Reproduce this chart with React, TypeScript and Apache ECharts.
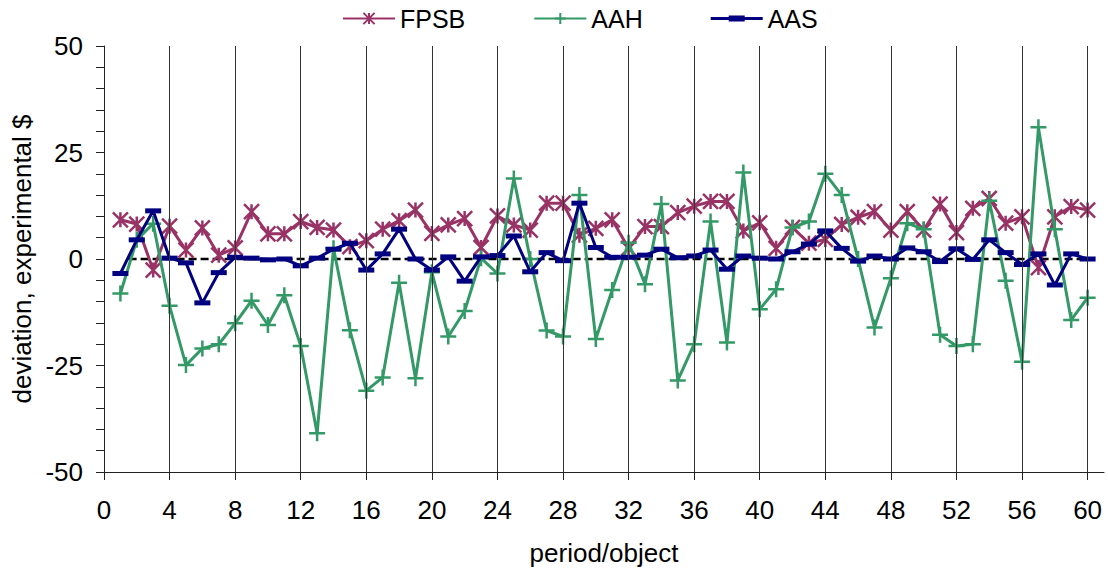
import React, { useEffect, useRef } from "react";
import * as echarts from "echarts";

const periods: number[] = Array.from({ length: 60 }, (_, i) => i + 1);

const fpsb: number[] = [
  9.2, 8.2, -2.6, 7.7, 2.1, 7.3, 0.9, 2.6, 11.1, 5.9,
  5.9, 8.8, 7.4, 6.8, 2.9, 4.3, 7.0, 9.0, 11.5, 6.0,
  8.0, 9.5, 2.7, 10.1, 8.0, 6.8, 13.1, 13.1, 5.6, 7.2,
  9.2, 2.5, 7.6, 7.6, 10.9, 12.4, 13.5, 13.5, 6.6, 8.5,
  2.5, 7.4, 3.7, 4.6, 8.1, 9.8, 11.1, 6.8, 11.1, 6.8,
  12.9, 6.2, 11.9, 14.2, 8.4, 9.9, -2.0, 9.9, 12.3, 11.5,
];

const aah: number[] = [
  -8.1, 4.5, 8.3, -11.0, -24.9, -21.0, -20.0, -15.1, -9.8, -15.5,
  -8.5, -20.4, -40.9, 2.5, -16.7, -30.9, -27.8, -5.6, -28.0, -3.1,
  -18.2, -12.2, 0.2, -3.4, 18.9, 0.0, -16.8, -18.2, 15.0, -18.8,
  -7.3, 3.8, -5.9, 12.9, -28.5, -20.0, 8.8, -19.6, 20.3, -11.8,
  -7.1, 7.4, 8.8, 20.0, 15.0, 0.0, -16.1, -4.5, 8.4, 7.0,
  -17.8, -20.4, -20.0, 13.7, -5.1, -24.1, 30.9, 7.0, -14.3, -9.1,
];

const aas: number[] = [
  -3.4, 4.5, 11.3, 0.2, -0.9, -10.3, -3.2, 0.4, 0.2, -0.2,
  0.0, -1.6, 0.2, 2.3, 3.7, -2.6, 1.2, 7.0, 0.0, -2.6,
  0.5, -5.2, 0.5, 0.8, 5.4, -3.0, 1.5, -0.4, 13.1, 2.7,
  0.4, 0.4, 0.9, 2.3, 0.3, 0.7, 2.1, -2.4, 0.7, 0.2,
  0.0, 1.7, 3.5, 6.6, 2.5, -0.5, 0.7, 0.0, 2.6, 1.7,
  -0.6, 2.4, -0.1, 4.5, 1.5, -1.3, 1.2, -6.1, 1.2, 0.0,
];

const zeroLineX: number[] = [1.5, 60];
const xTicks: number[] = [0, 4, 8, 12, 16, 20, 24, 28, 32, 36, 40, 44, 48, 52, 56, 60];
const gridLinesX: number[] = [4, 8, 12, 16, 20, 24, 28, 32, 36, 40, 44, 48, 52, 56, 60];

const FONT = "'Liberation Sans', Arial, sans-serif";
const STAR = "path://M0 0 L14 14 M14 0 L0 14 M7 0 L7 14";
const PLUS = "path://M0 8 L16 8 M8 0 L8 16";

export default function App() {
  const ref = useRef<HTMLDivElement>(null);
  useEffect(() => {
    if (!ref.current) return;
    const chart = echarts.init(ref.current, undefined, { renderer: "svg" });
    const pair = (ys: number[]) => periods.map((p, i) => [p, ys[i]]);
    chart.setOption({
      animation: false,
      backgroundColor: "#ffffff",
      textStyle: { fontFamily: FONT, color: "#000" },
      legend: {
        left: 342,
        top: 6,
        padding: 0,
        itemWidth: 52,
        itemHeight: 14,
        itemGap: 68,
        textStyle: { fontSize: 25, color: "#000", fontFamily: FONT, padding: [0, 0, 0, 0] },
        data: [
          { name: "FPSB" },
          { name: "AAH" },
          { name: "AAS", icon: "path://M0 0 L52 0 L52 3 L0 3 Z M18 -1.5 L34 -1.5 L34 4.5 L18 4.5 Z" },
        ],
      },
      grid: { left: 104, top: 46, right: 4, bottom: 104, containLabel: false },
      xAxis: {
        type: "value",
        min: 0,
        max: 61,
        interval: 4,
        name: "period/object",
        nameLocation: "middle",
        nameGap: 68,
        nameTextStyle: { fontSize: 26, color: "#000", fontFamily: FONT },
        axisLine: { show: true, onZero: false, lineStyle: { color: "#222", width: 1 } },
        axisTick: { show: true, length: 8, customValues: xTicks, lineStyle: { color: "#222" } },
        axisLabel: { fontSize: 26, color: "#000", margin: 25, customValues: xTicks, fontFamily: FONT },
        splitLine: { show: false },
      },
      yAxis: {
        type: "value",
        min: -50,
        max: 50,
        interval: 25,
        name: "deviation, experimental $",
        nameLocation: "middle",
        nameGap: 60,
        nameTextStyle: { fontSize: 26, color: "#000", fontFamily: FONT },
        axisLine: { show: true, lineStyle: { color: "#222", width: 1 } },
        axisTick: { show: true, length: 8, lineStyle: { color: "#222" } },
        minorTick: { show: true, splitNumber: 5, length: 8, lineStyle: { color: "#222" } },
        axisLabel: { fontSize: 26, color: "#000", margin: 21, fontFamily: FONT },
        splitLine: { show: false },
      },
      series: [
        {
          name: "zero",
          type: "line",
          data: zeroLineX.map((x) => [x, 0]),
          symbol: "none",
          lineStyle: { color: "#000", width: 2.5, type: [8, 4] },
          silent: true,
          z: 1,
          markLine: {
            silent: true,
            symbol: "none",
            label: { show: false },
            lineStyle: { color: "#333", width: 1, type: "solid" },
            data: gridLinesX.map((x) => ({ xAxis: x })),
          },
        },
        {
          name: "FPSB",
          type: "line",
          data: pair(fpsb),
          symbol: STAR,
          symbolSize: 15,
          lineStyle: { color: "#993366", width: 3 },
          itemStyle: { color: "#993366", borderColor: "#993366", borderWidth: 2.5 },
          z: 2,
        },
        {
          name: "AAH",
          type: "line",
          data: pair(aah),
          symbol: PLUS,
          symbolSize: 16,
          lineStyle: { color: "#339966", width: 3 },
          itemStyle: { color: "#339966", borderColor: "#339966", borderWidth: 2.5 },
          z: 3,
        },
        {
          name: "AAS",
          type: "line",
          data: pair(aas),
          symbol: "rect",
          symbolSize: [16, 5],
          lineStyle: { color: "#000080", width: 3 },
          itemStyle: { color: "#000080", borderWidth: 0 },
          z: 4,
        },
      ],
    });
    return () => chart.dispose();
  }, []);
  return (
    <div
      ref={ref}
      style={{ position: "absolute", left: 0, top: 0, width: 1108, height: 576 }}
    />
  );
}
